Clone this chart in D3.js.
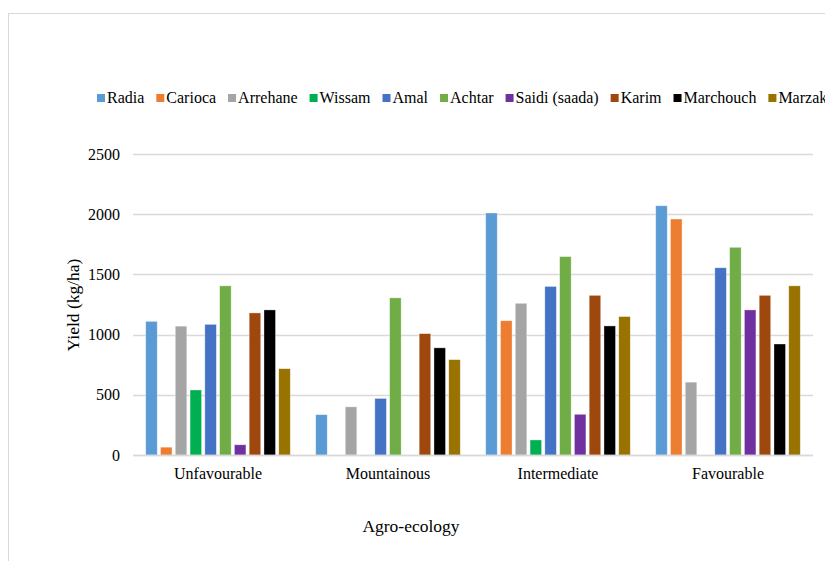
<!DOCTYPE html>
<html lang="en">
<head>
<meta charset="UTF-8" />
<title>Yield by agro-ecology</title>
<style>
  body { margin: 0; background: #fff; }
  svg text { font-family: "Liberation Serif", "Times New Roman", serif; }
</style>
</head>
<body>
<svg id="chart" width="825" height="561"></svg>
<script src="https://d3js.org/d3.v7.min.js"></script>
<script>
// categories and varieties
const zones = ["Unfavourable", "Mountainous", "Intermediate", "Favourable"];
const varieties = ["Radia", "Carioca", "Arrehane", "Wissam", "Amal", "Achtar", "Saidi (saada)", "Karim", "Marchouch", "Marzak"];
const colors = ["#5B9BD5", "#ED7D31", "#A5A5A5", "#00B050", "#4472C4", "#70AD47", "#7030A0", "#9E480E", "#000000", "#997300"];

// yield (kg/ha), one array per variety, in zone order
const radia     = [1110, 335, 2010, 2070];
const carioca   = [65, 0, 1115, 1960];
const arrehane  = [1070, 400, 1260, 605];
const wissam    = [540, 0, 125, 0];
const amal      = [1085, 470, 1400, 1555];
const achtar    = [1405, 1305, 1648, 1725];
const saidi     = [85, 0, 338, 1205];
const karim     = [1180, 1008, 1326, 1326];
const marchouch = [1205, 890, 1072, 922];
const marzak    = [717, 792, 1150, 1405];
const yields = [radia, carioca, arrehane, wissam, amal, achtar, saidi, karim, marchouch, marzak];

const yTicks = [0, 500, 1000, 1500, 2000, 2500];

const svg = d3.select("#chart");
const grid = "#d9d9d9";

// outer chart frame (runs off the right/bottom edge)
svg.append("rect")
  .attr("x", 8.5).attr("y", 13.5)
  .attr("width", 900).attr("height", 700)
  .attr("fill", "none").attr("stroke", grid);

const x0 = d3.scaleBand().domain(zones).range([133, 813]);
const x1 = d3.scaleBand().domain(varieties).range([0, x0.bandwidth()])
  .paddingInner(0.22).paddingOuter(0.86);
const y = d3.scaleLinear().domain([0, 2500]).range([455, 154]);

// gridlines
svg.append("g").selectAll("line")
  .data(yTicks)
  .join("line")
  .attr("x1", 133).attr("x2", 813)
  .attr("y1", d => Math.round(y(d)) + 0.5).attr("y2", d => Math.round(y(d)) + 0.5)
  .attr("stroke", grid).attr("stroke-width", 1.3);

// y tick labels
svg.append("g").selectAll("text")
  .data(yTicks)
  .join("text")
  .attr("x", 120).attr("y", d => y(d))
  .attr("dy", "0.35em")
  .attr("text-anchor", "end")
  .attr("font-size", 16)
  .text(d => d);

// bars
const rows = [];
zones.forEach((z, i) => varieties.forEach((v, j) => rows.push({ zone: z, variety: v, value: yields[j][i], color: colors[j] })));

svg.append("g").selectAll("rect")
  .data(rows.filter(d => d.value > 0))
  .join("rect")
  .attr("x", d => x0(d.zone) + x1(d.variety))
  .attr("width", x1.bandwidth())
  .attr("y", d => y(d.value))
  .attr("height", d => y(0) - y(d.value))
  .attr("fill", d => d.color)
  .attr("stroke", "#fff").attr("stroke-opacity", 0.5).attr("stroke-width", 0.7);

// x axis line on top of bars
svg.append("line")
  .attr("x1", 133).attr("x2", 813)
  .attr("y1", Math.round(y(0)) + 0.5).attr("y2", Math.round(y(0)) + 0.5)
  .attr("stroke", grid).attr("stroke-width", 1.5);

// x tick labels
svg.append("g").selectAll("text")
  .data(zones)
  .join("text")
  .attr("x", d => x0(d) + x0.bandwidth() / 2)
  .attr("y", 479)
  .attr("text-anchor", "middle")
  .attr("font-size", 16)
  .text(d => d);

// axis titles
svg.append("text")
  .attr("x", 411).attr("y", 532)
  .attr("text-anchor", "middle")
  .attr("font-size", 17.5)
  .text("Agro-ecology");

svg.append("text")
  .attr("transform", "translate(79,305) rotate(-90)")
  .attr("text-anchor", "middle")
  .attr("font-size", 17.5)
  .text("Yield (kg/ha)");

// legend (runs off the right edge, as in the original)
const legend = svg.append("g").attr("font-size", 16);
let lx = 97;
varieties.forEach((v, j) => {
  legend.append("rect")
    .attr("x", lx).attr("y", 94)
    .attr("width", 8).attr("height", 8)
    .attr("fill", colors[j]);
  const t = legend.append("text")
    .attr("x", lx + 10).attr("y", 103)
    .text(v);
  lx += 10 + t.node().getComputedTextLength() + 12;
});
</script>
</body>
</html>
